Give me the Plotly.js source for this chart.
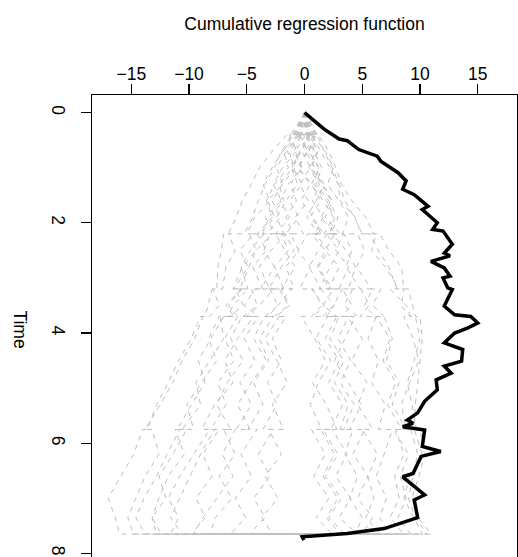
<!DOCTYPE html>
<html><head><meta charset="utf-8">
<script src="https://cdn.plot.ly/plotly-3.0.1.min.js"></script>
<style>html,body{margin:0;padding:0;overflow:hidden;background:#fff}#chart{width:518px;height:571px}</style>
</head><body><div id="chart"></div>
<script>
// Observed cumulative regression function (x = value, y = time)
const obsTime = [0,0.12,0.30,0.48,0.51,0.67,0.79,0.88,1.09,1.24,1.39,1.49,1.70,1.76,2.00,2.12,2.15,2.39,2.55,2.60,2.70,2.82,2.97,3.00,3.18,3.21,3.51,3.67,3.70,3.82,3.91,4.00,4.18,4.30,4.51,4.60,4.73,4.85,5.03,5.24,5.45,5.58,5.64,5.70,5.76,6.06,6.15,6.24,6.55,6.61,6.76,6.94,7.03,7.35,7.55,7.64,7.70,7.76];
const obsValue = [0,0.7,1.7,3.0,3.7,4.7,6.3,6.6,8.1,8.8,8.5,9.5,10.7,10.2,11.5,11.1,12.0,12.8,12.1,12.6,10.95,12.1,12.6,12.0,12.4,12.8,12.1,13.0,14.4,15.0,14.1,13.0,12.1,13.7,13.6,12.1,12.7,11.4,11.5,10.4,9.8,8.9,9.4,8.5,10.4,10.2,11.8,10.1,9.4,8.5,9.4,10.4,9.5,9.8,6.9,3.7,-0.2,-0.05];

// Simulated processes (grey dashed), shared time grid
const simTime = [0,0.15,0.4,0.4,0.7,1.0,1.3,1.6,1.9,2.2,2.2,2.5,2.8,3.2,3.2,3.5,3.7,3.7,4.1,4.5,4.9,5.3,5.75,5.75,6.2,6.6,7.0,7.35,7.65,7.65];
const sim01 = [0,-0.4,-1.2,-1.5,-2.8,-3.9,-4.6,-5.4,-5.9,-6.6,-7.0,-7.2,-7.5,-7.6,-8.0,-8.4,-8.6,-9.0,-9.8,-10.9,-11.8,-12.8,-13.6,-14.0,-14.8,-15.9,-17.0,-16.4,-16.0,0];
const sim02 = [0,0.5,1.0,1.2,2.1,2.7,3.2,4.1,5.3,6.0,6.5,7.3,8.4,8.6,9.0,9.4,9.6,10.0,10.2,10.0,9.8,9.6,9.5,10.0,10.4,9.9,9.3,9.8,11.0,0];
const sim03 = [0,-0.3,-0.8,-1.1,-2.0,-2.6,-3.4,-4.0,-4.5,-5.2,-6.6,-6.0,-6.8,-7.1,-7.9,-7.4,-8.2,-8.8,-9.5,-10.6,-11.4,-12.5,-13.8,-13.2,-12.6,-13.8,-14.6,-15.3,-14.8,0];
const sim04 = [0,0.3,0.9,0.6,1.4,2.2,2.9,3.1,4.4,4.9,6.2,5.8,7.0,8.2,7.4,8.8,9.2,8.6,9.4,9.9,9.1,8.4,8.8,9.5,10.2,9.1,8.6,9.5,10.2,0];
const sim05 = [0,-0.2,-0.6,-0.2,-1.3,-1.0,-2.2,-1.8,-3.1,-3.6,-2.8,-4.2,-4.8,-5.6,-4.9,-6.2,-6.6,-7.3,-7.0,-8.2,-9.4,-9.0,-10.6,-11.2,-10.4,-11.8,-12.6,-13.2,-12.8,0];
const sim06 = [0,0.2,0.5,0.9,0.4,1.2,0.8,1.9,2.6,2.2,3.4,4.1,3.6,4.8,5.9,5.2,6.1,6.9,7.6,7.1,8.2,7.6,8.8,7.9,8.6,7.8,8.2,7.4,8.6,0];
const sim07 = [0,-0.1,-0.5,0.3,-0.4,-1.1,-0.6,-1.6,-2.4,-1.8,-3.0,-3.5,-2.6,-3.8,-4.6,-4.1,-5.3,-4.4,-5.8,-6.9,-6.2,-7.8,-8.9,-8.2,-9.6,-10.8,-11.8,-10.9,-11.6,0];
const sim08 = [0,0.1,-0.2,0.6,1.1,0.6,1.6,2.4,1.8,3.1,2.4,3.6,4.4,3.8,4.9,5.6,4.8,6.2,5.5,6.4,5.8,7.0,6.4,7.6,6.9,6.2,7.1,6.5,7.4,0];
const sim09 = [0,-0.3,-0.9,-0.5,-1.6,-2.4,-1.9,-3.2,-2.6,-3.9,-4.8,-4.2,-5.4,-6.2,-5.5,-6.8,-6.1,-7.4,-8.3,-7.6,-8.9,-10.2,-9.6,-10.8,-11.9,-12.8,-13.9,-14.6,-13.8,0];
const sim10 = [0,0.0,0.3,-0.4,0.2,-0.6,0.5,-0.3,0.8,1.4,0.6,1.8,1.1,2.2,1.4,2.6,1.9,3.0,2.2,3.4,2.6,3.8,3.1,4.2,3.5,4.6,3.9,5.0,4.4,0];
const sim11 = [0,-0.1,-0.4,0.1,-0.8,-0.2,-1.2,-0.7,-1.6,-1.0,-2.0,-1.4,-2.6,-1.8,-3.0,-2.3,-3.4,-2.7,-3.9,-3.1,-4.4,-3.6,-4.9,-4.1,-5.5,-4.6,-6.0,-5.1,-6.4,0];
const sim12 = [0,0.4,1.1,0.7,1.8,2.5,2.0,3.0,3.8,3.3,4.6,5.2,4.5,5.8,6.6,5.9,6.9,6.2,7.4,6.8,7.9,7.2,8.4,7.7,9.0,8.3,8.8,8.1,9.2,0];
const sim13 = [0,-0.2,-0.7,-1.0,-1.8,-1.4,-2.6,-3.3,-2.8,-4.1,-3.5,-4.7,-5.5,-4.9,-6.0,-5.3,-6.5,-5.8,-6.9,-6.1,-7.5,-6.8,-8.1,-7.4,-8.8,-8.0,-9.4,-8.6,-9.8,0];
const sim14 = [0,0.2,0.6,0.2,0.9,0.4,1.3,0.7,1.6,0.9,1.9,1.2,0.4,1.4,0.6,1.7,0.8,2.0,1.0,2.3,1.2,0.5,1.5,0.6,1.8,0.8,2.1,1.0,2.4,0];
const sim15 = [0,-0.4,-1.0,-0.6,-1.9,-2.8,-3.6,-3.0,-4.3,-5.0,-4.4,-5.6,-4.9,-6.1,-5.4,-6.6,-5.8,-7.0,-8.1,-9.2,-8.6,-9.8,-11.0,-10.2,-11.4,-12.6,-12.0,-13.2,-12.4,0];
const sim16 = [0,0.1,0.4,0.0,0.8,1.5,1.0,2.1,2.9,2.3,3.4,2.7,3.8,3.0,4.2,3.4,4.6,3.7,5.0,4.1,5.4,4.6,5.9,5.0,6.3,5.5,6.0,5.3,6.6,0];
const sim17 = [0,-0.2,-0.3,0.4,-0.2,0.5,-0.4,0.3,-0.8,-0.1,-1.2,-0.5,-1.6,-0.9,-2.0,-1.3,-2.4,-1.6,-2.8,-2.0,-3.2,-2.4,-3.6,-2.7,-4.0,-3.0,-4.4,-3.4,-4.8,0];
const sim18 = [0,0.3,0.8,1.1,1.7,2.4,3.0,3.5,4.3,5.0,5.6,6.4,7.3,8.0,8.6,8.4,9.1,9.6,10.0,9.5,8.9,9.3,9.7,9.2,9.8,9.4,9.0,9.6,10.6,0];
const sim19 = [0,0.1,0.2,-0.3,-0.9,-0.3,-1.4,-2.1,-1.3,-2.5,-1.7,-0.9,-2.0,-3.1,-2.2,-1.4,-2.6,-3.5,-4.4,-3.3,-4.6,-5.8,-4.7,-6.0,-7.1,-6.2,-7.6,-8.8,-9.6,0];
const sim20 = [0,-0.1,0.3,0.8,0.1,0.9,1.7,1.0,0.2,1.2,0.3,-0.6,0.5,-0.4,0.7,1.5,0.6,-0.3,0.9,1.8,0.7,1.9,2.8,1.6,2.9,1.8,3.2,2.1,3.5,0];
const sim21 = [0,-0.3,-0.6,-1.3,-0.7,-1.9,-2.7,-2.0,-3.4,-2.5,-1.6,-2.9,-3.9,-3.0,-4.3,-5.2,-4.0,-5.4,-6.4,-5.3,-6.7,-7.6,-6.4,-7.8,-9.0,-9.9,-10.8,-11.6,-10.6,0];
const sim22 = [0,0.2,0.1,-0.5,0.3,-0.5,0.6,1.4,0.5,1.7,2.6,1.8,3.0,2.1,3.3,4.1,3.2,4.4,3.5,2.6,3.8,4.9,3.9,5.2,4.2,5.5,4.6,5.9,5.0,0];
const sim23 = [0,-0.2,-0.9,-0.4,-1.5,-0.8,-1.9,-2.8,-2.1,-3.2,-4.1,-3.3,-4.5,-3.6,-2.7,-3.9,-5.0,-4.0,-5.2,-4.3,-5.6,-4.6,-5.9,-7.0,-6.0,-7.4,-6.3,-7.7,-8.2,0];
const sim24 = [0,0.3,0.7,0.2,1.2,0.5,1.5,2.3,1.4,2.7,1.9,3.0,2.2,1.3,2.5,1.6,2.8,3.8,2.9,4.0,3.1,4.3,3.4,2.4,3.7,2.7,4.0,3.0,4.6,0];
const sim25 = [0,-0.1,-0.2,0.5,-0.3,-1.0,-0.2,-1.3,-0.5,-1.6,-2.5,-1.7,-0.8,-2.0,-1.1,-2.3,-3.2,-2.2,-3.4,-2.4,-1.5,-2.8,-1.8,-3.1,-2.0,-3.4,-2.3,-3.7,-2.8,0];
const sim26 = [0,0.2,0.5,1.0,0.3,1.3,0.6,1.6,2.5,1.7,0.9,2.1,1.2,2.4,3.3,2.5,1.6,2.8,1.8,3.0,2.1,3.3,2.3,1.4,2.6,1.6,2.9,1.9,3.1,0];
const simSeries = [sim01,sim02,sim03,sim04,sim05,sim06,sim07,sim08,sim09,sim10,sim11,sim12,sim13,sim14,sim15,sim16,sim17,sim18,sim19,sim20,sim21,sim22,sim23,sim24,sim25,sim26];

const xTicks = [-15,-10,-5,0,5,10,15];
const yTicks = [0,2,4,6,8];
const xTitle = "Cumulative regression function";
const yTitle = "Time";

const font = {family: "Liberation Sans, Arial, Helvetica, sans-serif", size: 17.5, color: "#000"};
const traces = simSeries.map(v => ({
  x: v, y: simTime, type: "scatter", mode: "lines", hoverinfo: "skip",
  line: {color: "#BEBEBE", width: 1, dash: "5px,5px"}
}));
traces.push({x: obsValue, y: obsTime, type: "scatter", mode: "lines",
  line: {color: "#000", width: 3.5}});

const layout = {
  width: 518, height: 571, showlegend: false,
  paper_bgcolor: "#fff", plot_bgcolor: "#fff", font: font,
  margin: {l: 92, r: 1, t: 95, b: 0},
  xaxis: {side: "top", range: [-18.4, 18.4], tickvals: xTicks, ticktext: xTicks.map(v => v < 0 ? "\u2212" + Math.abs(v) : String(v)),
    ticks: "outside", ticklen: 10, tickwidth: 1.3, tickcolor: "#000", ticklabelstandoff: -3,
    showline: true, linecolor: "#000", linewidth: 1.5, mirror: true,
    showgrid: false, zeroline: false, tickfont: font,
    title: {text: xTitle, font: font, standoff: 28}},
  yaxis: {range: [8.32, -0.32], tickvals: yTicks, ticktext: yTicks.map(String), tickangle: 90,
    ticks: "outside", ticklen: 10, tickwidth: 1.3, tickcolor: "#000", ticklabelstandoff: 8,
    showline: true, linecolor: "#000", linewidth: 1.5, mirror: true,
    showgrid: false, zeroline: false, tickfont: font},
  annotations: [{text: yTitle, textangle: 90, xref: "paper", yref: "paper",
    x: -0.17, y: 0.508, xanchor: "center", yanchor: "middle", showarrow: false, font: font}]
};
Plotly.newPlot("chart", traces, layout, {displayModeBar: false, staticPlot: true});
</script></body></html>
